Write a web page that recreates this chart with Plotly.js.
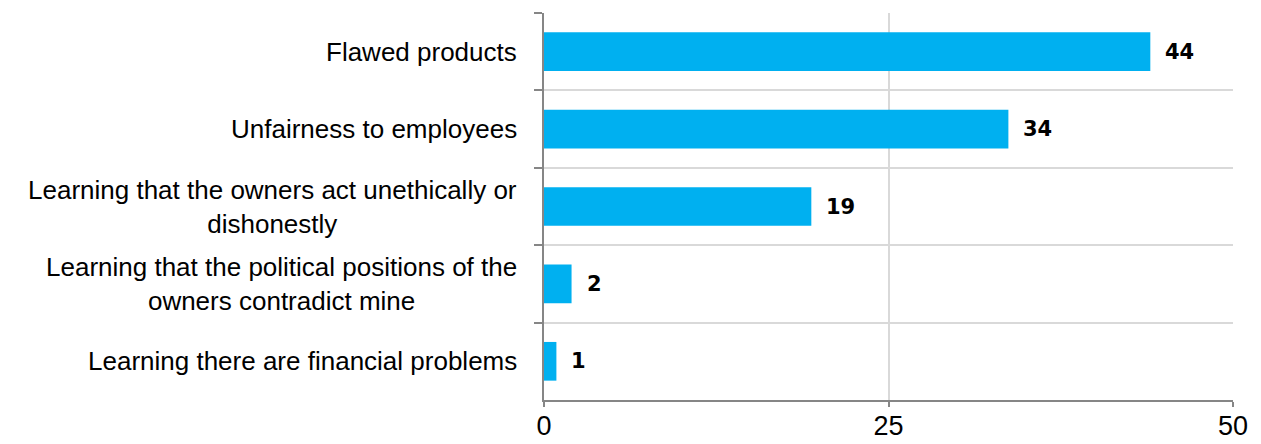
<!DOCTYPE html>
<html>
<head>
<meta charset="utf-8">
<script src="https://cdn.plot.ly/plotly-3.0.1.min.js"></script>
<style>html,body{margin:0;padding:0;background:#fff;}#chart{width:1261px;height:444px;}</style>
</head>
<body>
<div id="chart"></div>
<script>
const categories = [
  "Flawed products",
  "Unfairness to employees",
  "Learning that the owners act unethically or<br>dishonestly",
  "Learning that the political positions of the<br>owners contradict mine",
  "Learning there are financial problems"
];
const values = [44.0, 33.7, 19.4, 2.0, 0.9];
const valueLabels = ["44", "34", "19", "2", "1"];
const xTicks = [0, 25, 50];

const labelFont = {family: "Liberation Sans, Arial, sans-serif", size: 26, color: "#000"};
const valueFont = {family: "DejaVu Sans, sans-serif", size: 21, color: "#000", weight: 900};

const annotations = [];
categories.forEach((c, i) => {
  annotations.push({
    xref: "paper", yref: "y", x: 0, y: c, xanchor: "right", yanchor: "middle",
    xshift: -25, text: c, showarrow: false, align: "center", font: labelFont
  });
  annotations.push({
    xref: "x", yref: "y", x: values[i], y: c, xanchor: "left", yanchor: "middle",
    xshift: 13, text: valueLabels[i], showarrow: false, font: valueFont
  });
});

const trace = {
  type: "bar", orientation: "h",
  x: values, y: categories,
  marker: {color: "#00B0F0"},
  width: 0.5,
  hoverinfo: "none"
};

const layout = {
  width: 1261, height: 444,
  margin: {l: 544, r: 28, t: 13, b: 44, pad: 0},
  paper_bgcolor: "#fff", plot_bgcolor: "#fff",
  showlegend: false,
  bargap: 0.5,
  xaxis: {
    range: [0, 50], tickvals: xTicks, ticktext: xTicks.map(String),
    showgrid: true, gridcolor: "#D9D9D9", gridwidth: 2,
    zeroline: false, showline: true, linecolor: "#868686", linewidth: 2,
    ticks: "outside", ticklen: 5, tickcolor: "#868686", tickwidth: 2,
    ticklabelstandoff: -4,
    tickfont: {family: "Liberation Sans, Arial, sans-serif", size: 27, color: "#000"},
    fixedrange: true
  },
  yaxis: {
    type: "category", autorange: "reversed",
    tickson: "boundaries", showticklabels: false,
    showgrid: true, gridcolor: "#D9D9D9", gridwidth: 2,
    zeroline: false, showline: true, linecolor: "#868686", linewidth: 2,
    ticks: "outside", ticklen: 8, tickcolor: "#868686", tickwidth: 2,
    fixedrange: true
  },
  annotations: annotations
};

Plotly.newPlot("chart", [trace], layout, {displayModeBar: false, staticPlot: true});
</script>
</body>
</html>
